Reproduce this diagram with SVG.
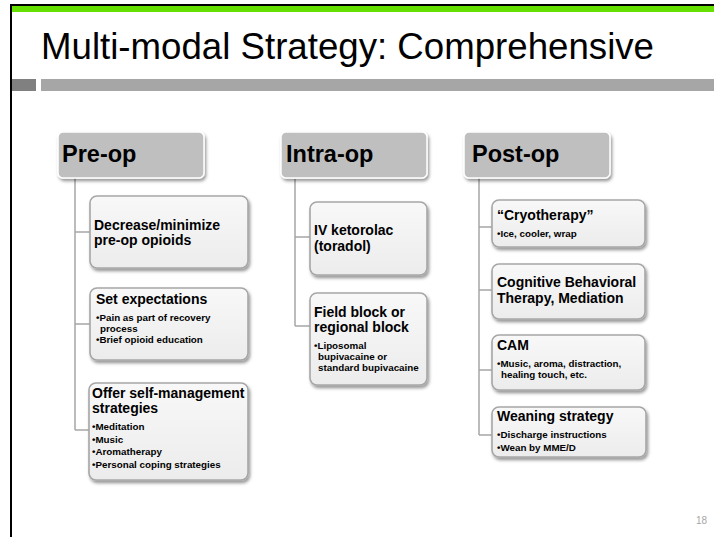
<svg xmlns="http://www.w3.org/2000/svg" width="714" height="537" viewBox="0 0 714 537">
  <defs>
    <filter id="shadow" x="-10%" y="-10%" width="125%" height="130%">
      <feDropShadow dx="1.5" dy="2.5" stdDeviation="1.4" flood-color="#000" flood-opacity="0.4"/>
    </filter>
    <linearGradient id="boxFill" x1="0" y1="0" x2="0" y2="1">
      <stop offset="0" stop-color="#f8f8f8"/>
      <stop offset="1" stop-color="#ececec"/>
    </linearGradient>
  </defs>
  <style>
    text { font-family: "Liberation Sans", Arial, sans-serif; fill: #000; }
    .title { font-size: 36px; }
    .hdr rect { fill: #bfbfbf; stroke: #ffffff; stroke-width: 1.5; filter: url(#shadow); }
    .hdr text { font-size: 23.5px; font-weight: bold; }
    .box rect { fill: url(#boxFill); stroke: #a6a6a6; stroke-width: 1.6; filter: url(#shadow); }
    .box .h { font-size: 14px; font-weight: bold; }
    .box .b { font-size: 9.8px; font-weight: bold; }
    #connectors path { fill: none; stroke: #a6a6a6; stroke-width: 1.5; }
    .pg { font-size: 10px; fill: #a6a6a6; }
  </style>

  <!-- slide frame -->
  <rect x="0" y="0" width="714" height="537" fill="#ffffff"/>
  <rect x="10" y="4" width="704" height="2" fill="#000"/>
  <rect x="10" y="4" width="2" height="533" fill="#000"/>
  <rect x="12" y="6" width="702" height="6" fill="#66e000"/>

  <!-- title and rule -->
  <text class="title" x="41" y="59" textLength="613" lengthAdjust="spacingAndGlyphs">Multi-modal Strategy: Comprehensive</text>
  <rect x="12" y="79" width="24" height="12" fill="#808080"/>
  <rect x="41" y="79" width="673" height="12" fill="#a6a6a6"/>

  <!-- connectors -->
  <g id="connectors">
    <path d="M75 178 V430 M75 232 H90 M75 324 H90 M75 430 H90"/>
    <path d="M295 179 V326 M295 237 H310 M295 326 H310"/>
    <path d="M479 178 V435 M479 227 H492 M479 290 H492 M479 370 H492 M479 435 H492"/>
  </g>

  <!-- column headers -->
  <g id="hdr-preop" class="hdr">
    <rect x="58" y="132" width="146" height="46" rx="5"/>
    <text x="62" y="162">Pre-op</text>
  </g>
  <g id="hdr-intraop" class="hdr">
    <rect x="281" y="132" width="146" height="46" rx="5"/>
    <text x="286" y="162">Intra-op</text>
  </g>
  <g id="hdr-postop" class="hdr">
    <rect x="464" y="132" width="146" height="46" rx="5"/>
    <text x="472" y="162">Post-op</text>
  </g>

  <!-- Pre-op items -->
  <g id="pre-opioids" class="box">
    <rect x="90" y="196" width="158" height="72" rx="7"/>
    <text class="h" x="94" y="230">Decrease/minimize</text>
    <text class="h" x="94" y="245">pre-op opioids</text>
  </g>
  <g id="pre-expectations" class="box">
    <rect x="90" y="288" width="158" height="72" rx="7"/>
    <text class="h" x="96" y="304">Set expectations</text>
    <text class="b" x="96" y="321">•Pain as part of recovery</text>
    <text class="b" x="100" y="332">process</text>
    <text class="b" x="96" y="343">•Brief opioid education</text>
  </g>
  <g id="pre-selfmanagement" class="box">
    <rect x="89" y="383" width="159" height="97" rx="7"/>
    <text class="h" x="92" y="398">Offer self-management</text>
    <text class="h" x="92" y="413">strategies</text>
    <text class="b" x="92" y="430">•Meditation</text>
    <text class="b" x="92" y="442.5">•Music</text>
    <text class="b" x="92" y="455">•Aromatherapy</text>
    <text class="b" x="92" y="467.5">•Personal coping strategies</text>
  </g>

  <!-- Intra-op items -->
  <g id="intra-ketorolac" class="box">
    <rect x="310" y="202" width="117" height="73" rx="7"/>
    <text class="h" x="314" y="235">IV ketorolac</text>
    <text class="h" x="314" y="251">(toradol)</text>
  </g>
  <g id="intra-block" class="box">
    <rect x="310" y="293" width="117" height="92" rx="7"/>
    <text class="h" x="314" y="317">Field block or</text>
    <text class="h" x="314" y="332">regional block</text>
    <text class="b" x="314" y="349">•Liposomal</text>
    <text class="b" x="318" y="360">bupivacaine or</text>
    <text class="b" x="318" y="371">standard bupivacaine</text>
  </g>

  <!-- Post-op items -->
  <g id="post-cryo" class="box">
    <rect x="492" y="200" width="153" height="47" rx="7"/>
    <text class="h" x="497" y="220">“Cryotherapy”</text>
    <text class="b" x="497" y="237">•Ice, cooler, wrap</text>
  </g>
  <g id="post-cbt" class="box">
    <rect x="492" y="264" width="153" height="55" rx="7"/>
    <text class="h" x="497" y="287">Cognitive Behavioral</text>
    <text class="h" x="497" y="303">Therapy, Mediation</text>
  </g>
  <g id="post-cam" class="box">
    <rect x="492" y="335" width="153" height="55" rx="7"/>
    <text class="h" x="497" y="350">CAM</text>
    <text class="b" x="497" y="367">•Music, aroma, distraction,</text>
    <text class="b" x="501" y="378">healing touch, etc.</text>
  </g>
  <g id="post-weaning" class="box">
    <rect x="492" y="407" width="154" height="50" rx="7"/>
    <text class="h" x="497" y="421">Weaning strategy</text>
    <text class="b" x="497" y="438">•Discharge instructions</text>
    <text class="b" x="497" y="451">•Wean by MME/D</text>
  </g>

  <!-- slide number -->
  <text class="pg" x="696" y="524">18</text>
</svg>
